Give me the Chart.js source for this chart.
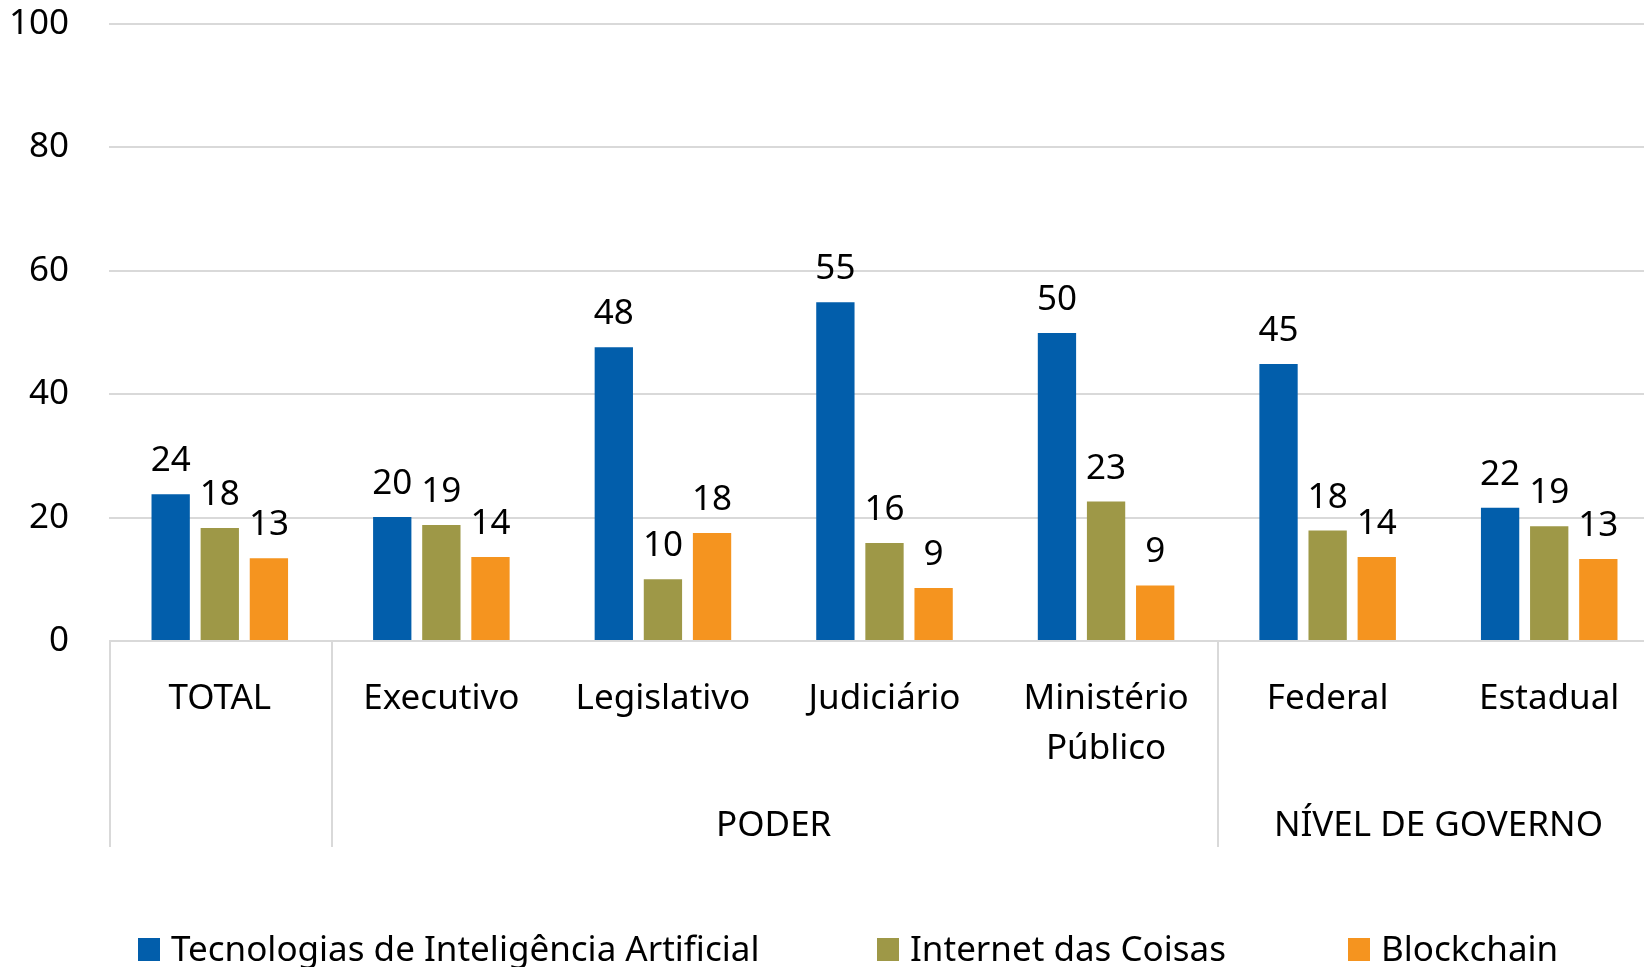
<!DOCTYPE html>
<html>
<head>
<meta charset="utf-8">
<script src="https://cdn.jsdelivr.net/npm/chart.js@4.4.1/dist/chart.umd.min.js"></script>
<style>
  html, body { margin: 0; padding: 0; background: #fff; overflow: hidden; }
  #wrap { position: relative; width: 1660px; height: 967px; }
</style>
</head>
<body>
<div id="wrap"><canvas id="myChart"></canvas></div>
<script>
const categories = ['TOTAL', 'Executivo', 'Legislativo', 'Judiciário', ['Ministério', 'Público'], 'Federal', 'Estadual'];
const groupNames = ['PODER', 'NÍVEL DE GOVERNO'];
const groupFrom = [1, 5];
const groupTo = [4, 6];
const separators = [0, 1, 5, 7];
const seriesNames = ['Tecnologias de Inteligência Artificial', 'Internet das Coisas', 'Blockchain'];
const aiValues = [23.8, 20.1, 47.6, 54.9, 49.9, 44.9, 21.6];
const iotValues = [18.3, 18.8, 10.0, 15.9, 22.6, 17.9, 18.6];
const blockchainValues = [13.4, 13.6, 17.5, 8.6, 9.0, 13.6, 13.3];
const yMax = 100;
const yStep = 20;

const colors = ['#025EAB', '#9E9847', '#F5941F'];
const FONT = '"Noto Sans", "Open Sans", sans-serif';
const SIZE = 35;
const gridColor = '#d9d9d9';

const extras = {
  id: 'extras',
  afterDraw(chart) {
    const ctx = chart.ctx;
    const x = chart.scales.x;
    const area = chart.chartArea;
    ctx.save();

    // separators under the axis
    ctx.strokeStyle = gridColor;
    ctx.lineWidth = 2;
    for (const s of separators) {
      const px = Math.round(x.getPixelForValue(s - 0.5)) + 1;
      ctx.beginPath();
      ctx.moveTo(px, area.bottom);
      ctx.lineTo(px, area.bottom + 206);
      ctx.stroke();
    }

    ctx.fillStyle = '#000';
    ctx.font = SIZE + 'px ' + FONT;
    ctx.textAlign = 'center';
    ctx.textBaseline = 'middle';

    // group labels
    for (let i = 0; i < groupNames.length; i++) {
      const left = x.getPixelForValue(groupFrom[i] - 0.5);
      const right = x.getPixelForValue(groupTo[i] + 0.5);
      ctx.fillText(groupNames[i], (left + right) / 2, area.bottom + 185);
    }

    // value labels
    chart.data.datasets.forEach((ds, i) => {
      const meta = chart.getDatasetMeta(i);
      meta.data.forEach((bar, j) => {
        ctx.fillText(String(Math.round(ds.data[j])), bar.x, bar.y - 33);
      });
    });

    // legend
    const legendX = [138, 877, 1348];
    ctx.textAlign = 'left';
    ctx.textBaseline = 'alphabetic';
    chart.data.datasets.forEach((ds, i) => {
      ctx.fillStyle = ds.backgroundColor;
      ctx.fillRect(legendX[i], 938, 22, 23);
      ctx.fillStyle = '#000';
      ctx.fillText(ds.label, legendX[i] + 33, 961);
    });

    ctx.restore();
  }
};

const ctx = document.querySelector('#myChart').getContext('2d');

new Chart(ctx, {
  type: 'bar',
  data: {
    labels: categories,
    datasets: [
      { label: seriesNames[0], data: aiValues, backgroundColor: colors[0] },
      { label: seriesNames[1], data: iotValues, backgroundColor: colors[1] },
      { label: seriesNames[2], data: blockchainValues, backgroundColor: colors[2] },
    ],
  },
  options: {
    responsive: true,
    maintainAspectRatio: false,
    animation: false,
    categoryPercentage: 0.665,
    barPercentage: 0.78,
    layout: { padding: 0 },
    plugins: {
      legend: { display: false },
      tooltip: { enabled: false },
    },
    scales: {
      x: {
        grid: { display: false, drawTicks: false },
        border: { display: false },
        ticks: {
          color: '#000',
          padding: 33,
          maxRotation: 0,
          autoSkip: false,
          font: { family: FONT, size: SIZE, lineHeight: 1.42 },
        },
        afterFit: s => { s.height = 326; },
      },
      y: {
        min: 0,
        max: yMax,
        ticks: {
          stepSize: yStep,
          color: '#000',
          padding: 40,
          font: { family: FONT, size: SIZE },
        },
        grid: { color: gridColor, lineWidth: 2, drawTicks: false },
        border: { display: false },
        afterFit: s => { s.width = 109; s.paddingTop = 24; s.paddingBottom = 0; },
      },
    },
  },
  plugins: [extras],
});
</script>
</body>
</html>
